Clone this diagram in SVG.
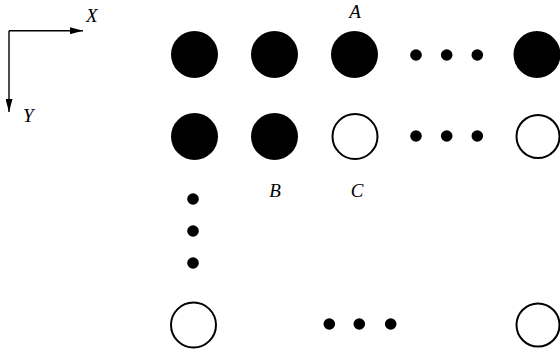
<svg xmlns="http://www.w3.org/2000/svg" width="560" height="354" viewBox="0 0 560 354">
<style>
.f{fill:#000}
.o{fill:#fff;stroke:#000;stroke-width:2}
.d{fill:#000}
.t{font-family:"Liberation Serif",serif;font-style:italic;font-size:19px;fill:#000}
.ax{stroke:#000;stroke-width:1.4;fill:none}
</style>
<defs>
<marker id="ah" markerWidth="13" markerHeight="7" refX="13" refY="3.5" orient="auto" markerUnits="userSpaceOnUse">
<path d="M0,0 L13,3.5 L0,7 Z" fill="#000"/>
</marker>
</defs>
<g id="axes">
<path class="ax" d="M9,30.7 H83" marker-end="url(#ah)"/>
<path class="ax" d="M9,30.7 V112" marker-end="url(#ah)"/>
<text class="t" x="86" y="22">X</text>
<text class="t" x="23" y="122">Y</text>
</g>
<g id="row1">
<circle class="f" cx="194.5" cy="54.5" r="23.5"/>
<circle class="f" cx="274.5" cy="54.5" r="23.5"/>
<circle class="f" cx="354.5" cy="54.5" r="23.5"/>
<circle class="d" cx="416" cy="55" r="5.8"/>
<circle class="d" cx="446.7" cy="55" r="5.8"/>
<circle class="d" cx="477.3" cy="55" r="5.8"/>
<circle class="f" cx="537" cy="54.5" r="23.5"/>
</g>
<g id="row2">
<circle class="f" cx="194.5" cy="136.5" r="23.5"/>
<circle class="f" cx="274.5" cy="136.5" r="23.5"/>
<circle class="o" cx="355" cy="136.5" r="22.5"/>
<circle class="d" cx="416" cy="136" r="5.8"/>
<circle class="d" cx="446.7" cy="136" r="5.8"/>
<circle class="d" cx="477.3" cy="136" r="5.8"/>
<circle class="o" cx="538" cy="136.5" r="21.5"/>
</g>
<g id="col">
<circle class="d" cx="193" cy="199" r="5.8"/>
<circle class="d" cx="193" cy="231" r="5.8"/>
<circle class="d" cx="193" cy="263" r="5.8"/>
</g>
<g id="row3">
<circle class="o" cx="193.5" cy="325" r="22.5"/>
<circle class="d" cx="329.3" cy="324" r="5.8"/>
<circle class="d" cx="359.3" cy="324" r="5.8"/>
<circle class="d" cx="390.7" cy="324" r="5.8"/>
<circle class="o" cx="538" cy="325" r="21.5"/>
</g>
<g id="labels">
<text class="t" x="355" y="18" text-anchor="middle">A</text>
<text class="t" x="275" y="197" text-anchor="middle">B</text>
<text class="t" x="357" y="197" text-anchor="middle">C</text>
</g>
</svg>
